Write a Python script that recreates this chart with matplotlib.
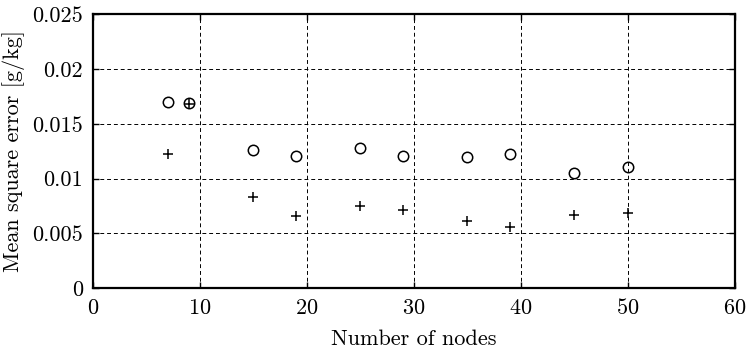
import numpy as np
import matplotlib
matplotlib.use('Agg')
import matplotlib.pyplot as plt
from matplotlib.ticker import FuncFormatter

# Mean square error vs. number of nodes for the two configurations
nodes = [7, 9, 15, 19, 25, 29, 35, 39, 45, 50]
mse_circle = [0.0170, 0.0169, 0.0126, 0.0121, 0.0128, 0.0121, 0.0120, 0.0122, 0.0105, 0.0111]
mse_plus = [0.0122, 0.0168, 0.0083, 0.0066, 0.0075, 0.0071, 0.0061, 0.0056, 0.0067, 0.0069]

x_ticks = [0, 10, 20, 30, 40, 50, 60]
y_ticks = [0, 0.005, 0.01, 0.015, 0.02, 0.025]

plt.rcParams['font.family'] = 'cmr10'
plt.rcParams['mathtext.fontset'] = 'cm'
plt.rcParams['axes.formatter.use_mathtext'] = True
plt.rcParams['font.size'] = 16

fig = plt.figure(figsize=(7.48, 3.52), dpi=100)
ax = fig.add_axes([0.124, 0.181, 0.8586, 0.779])

ax.plot(nodes, mse_circle, 'o', mfc='none', mec='black', ms=7.5, mew=1.1, zorder=3)
ax.plot(nodes, mse_plus, '+', color='black', ms=7, mew=1.1, zorder=3)

ax.set_xlim(0, 60)
ax.set_ylim(0, 0.025)
ax.set_xticks(x_ticks)
ax.set_yticks(y_ticks)
ax.yaxis.set_major_formatter(FuncFormatter(lambda v, p: '%g' % v))

ax.grid(True, color='black', linestyle=(0, (4, 3)), linewidth=0.7)
ax.tick_params(direction='in', top=True, right=True, length=4, width=1, pad=7)
for s in ax.spines.values():
    s.set_linewidth(1.6)

ax.set_xlabel('Number of nodes', labelpad=8)
ax.set_ylabel('Mean square error [g/kg]', labelpad=5)

fig.savefig('out.png', dpi=100)
